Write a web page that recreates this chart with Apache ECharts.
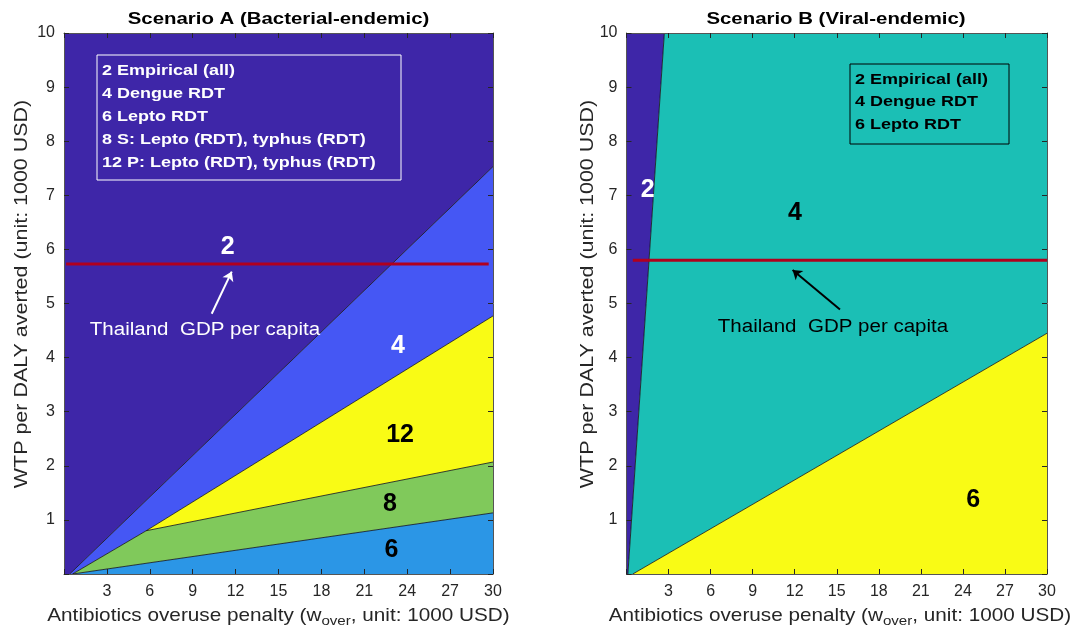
<!DOCTYPE html>
<html>
<head>
<meta charset="utf-8">
<script src="https://cdn.jsdelivr.net/npm/echarts@6/dist/echarts.min.js"></script>
<style>
  html, body { margin: 0; padding: 0; background: #fff; }
  #chart { width: 1092px; height: 631px; }
</style>
</head>
<body>
<div id="chart"></div>
<script>
// Axis ticks (both panels share the same scales)
const xTicks = [0, 3, 6, 9, 12, 15, 18, 21, 24, 27, 30];
const yTicks = [0, 1, 2, 3, 4, 5, 6, 7, 8, 9, 10];

// Scenario A: decision regions (vertices in axis units: w_over, WTP)
const regionA2  = [[0, 0], [0.4, 0], [30, 7.53], [30, 10], [0, 10]];
const regionA4  = [[0.4, 0], [0.6, 0], [5.75, 0.8], [30, 4.77], [30, 7.53]];
const regionA12 = [[5.75, 0.8], [30, 2.07], [30, 4.77]];
const regionA8  = [[0.6, 0], [30, 1.13], [30, 2.07], [5.75, 0.8]];
const regionA6  = [[0.6, 0], [30, 0], [30, 1.13]];

// Scenario A: region boundaries
const boundaryA = [
  [[0.4, 0], [30, 7.53]],
  [[0.6, 0], [5.75, 0.8]],
  [[5.75, 0.8], [30, 4.77]],
  [[5.75, 0.8], [30, 2.07]],
  [[0.6, 0], [30, 1.13]]
];

// Scenario B: decision regions
const regionB2 = [[0, 0], [0.1, 0], [2.7, 10], [0, 10]];
const regionB4 = [[0.1, 0], [0.45, 0], [30, 4.45], [30, 10], [2.7, 10]];
const regionB6 = [[0.45, 0], [30, 0], [30, 4.45]];

const boundaryB = [
  [[0.1, 0], [2.7, 10]],
  [[0.45, 0], [30, 4.45]]
];

// Thailand GDP per capita reference lines
const gdpLineA = [[0.15, 5.73], [29.7, 5.73]];
const gdpLineB = [[0.45, 5.8], [30, 5.8]];

// Arrows pointing at the GDP line (tail, head)
const arrowA = [[10.33, 4.81], [11.73, 5.59]];
const arrowB = [[15.23, 4.89], [11.85, 5.62]];

// Region number labels: [text, x, y]
const labelsA = [['2', 11.45, 6.05], ['4', 23.36, 4.21], ['12', 23.5, 2.57], ['8', 22.8, 1.29], ['6', 22.9, 0.44]];
const labelsB = [['2', 1.51, 7.10], ['4', 12.02, 6.67], ['6', 24.74, 1.37]];

// Legend entries
const legendA = ['2 Empirical (all)', '4 Dengue RDT', '6 Lepto RDT', '8 S: Lepto (RDT), typhus (RDT)', '12 P: Lepto (RDT), typhus (RDT)'];
const legendB = ['2 Empirical (all)', '4 Dengue RDT', '6 Lepto RDT'];

const titles = ['Scenario A (Bacterial-endemic)', 'Scenario B (Viral-endemic)'];
const yName = 'WTP per DALY averted (unit: 1000 USD)';
const gdpText = 'Thailand  GDP per capita';

// Parula-like colours for the strategy numbers
const colour = { '2': '#3E26A8', '4A': '#4557F4', '4B': '#1BBFB5', '6A': '#2B96E6', '6B': '#F9FB15', '8': '#80C95B', '12': '#F9FB15' };
const labelColourA = { '2': '#fff', '4': '#fff', '12': '#000', '8': '#000', '6': '#000' };
const labelColourB = { '2': '#fff', '4': '#000', '6': '#000' };

const FONT = '"Liberation Sans", Arial, Helvetica, sans-serif';
const AXIS = '#262626';
const WIDE = 1.16; // horizontal stretch of the annotation typeface

const chart = echarts.init(document.getElementById('chart'), null, { renderer: 'canvas' });

function polySeries(polys, cols, xi, yi) {
  return {
    type: 'custom',
    xAxisIndex: xi, yAxisIndex: yi,
    silent: true,
    data: polys.map((p, i) => i),
    renderItem: function (params, api) {
      const pts = polys[params.dataIndex].map(v => api.coord(v));
      return { type: 'polygon', shape: { points: pts }, style: { fill: cols[params.dataIndex], stroke: null } };
    },
    z: 1
  };
}

function boundarySeries(lines, xi, yi) {
  return lines.map(seg => ({
    type: 'line', xAxisIndex: xi, yAxisIndex: yi, data: seg, symbol: 'none', silent: true,
    lineStyle: { color: '#111', width: 0.8 }, z: 3, animation: false
  }));
}

function gdpSeries(seg, xi, yi) {
  return { type: 'line', xAxisIndex: xi, yAxisIndex: yi, data: seg, symbol: 'none', silent: true,
    lineStyle: { color: '#B0001E', width: 3 }, z: 4, animation: false };
}

function arrowSeries(seg, col, xi, yi) {
  return { type: 'lines', coordinateSystem: 'cartesian2d', xAxisIndex: xi, yAxisIndex: yi, silent: true,
    symbol: ['none', 'arrow'], symbolSize: 9,
    lineStyle: { color: col, width: 2, opacity: 1 }, data: [{ coords: seg }], z: 5, animation: false };
}

function labelSeries(items, cols, xi, yi) {
  return { type: 'scatter', xAxisIndex: xi, yAxisIndex: yi, symbolSize: 0, silent: true, z: 6,
    itemStyle: { opacity: 1 },
    data: items.map(d => ({ name: d[0], value: [d[1], d[2]],
      label: { show: true, position: 'inside', formatter: '{b}', color: cols[d[0]], opacity: 1,
        fontSize: 25, fontWeight: 'bold', fontFamily: FONT } })) };
}

function xAx(gi, pos, showLabel) {
  return { type: 'value', gridIndex: gi, position: pos, min: 0, max: 30, interval: 3, z: 10,
    axisLine: { show: true, onZero: false, lineStyle: { color: '#555', width: 1 } },
    axisTick: { show: true, inside: true, length: 5, lineStyle: { color: AXIS } },
    splitLine: { show: false },
    axisLabel: { show: showLabel, margin: 10, color: AXIS, fontSize: 16, fontFamily: FONT,
      formatter: v => (v === 0 ? '' : String(v)) } };
}
function yAx(gi, pos, showLabel) {
  return { type: 'value', gridIndex: gi, position: pos, min: 0, max: 10, interval: 1, z: 10,
    axisLine: { show: true, onZero: false, lineStyle: { color: '#555', width: 1 } },
    axisTick: { show: true, inside: true, length: 5, lineStyle: { color: AXIS } },
    splitLine: { show: false },
    axisLabel: { show: showLabel, margin: 9, color: AXIS, fontSize: 16, fontFamily: FONT,
      formatter: v => (v === 0 ? '' : String(v)) } };
}

function legendGraphic(lines, x, y, w, h, col, lh) {
  return [
    { type: 'rect', z: 100, shape: { x: x, y: y, width: w, height: h }, style: { fill: 'none', stroke: col, lineWidth: 1 } },
    { type: 'text', z: 101, x: x + 5, y: y + 4, scaleX: WIDE,
      style: { text: lines.join('\n'), fill: col, font: 'bold 15.5px ' + FONT, lineHeight: lh, verticalAlign: 'top' } }
  ];
}

function xNameGraphic(cx) {
  return { type: 'text', x: cx, y: 606, z: 100, scaleX: 1.12,
    style: { text: '{a|Antibiotics overuse penalty (w}{s|over}{a|, unit: 1000 USD)}', align: 'center', verticalAlign: 'top',
      rich: { a: { fontSize: 18.5, fontFamily: FONT, fill: AXIS, color: AXIS, lineHeight: 22, verticalAlign: 'top' },
              s: { fontSize: 13.5, fontFamily: FONT, fill: AXIS, color: AXIS, lineHeight: 22, verticalAlign: 'bottom', padding: [20, 0, 0, 0] } } } };
}

function yNameGraphic(cx) {
  return { type: 'text', x: cx, y: 294, rotation: Math.PI / 2, z: 100, scaleX: WIDE,
    style: { text: yName, align: 'center', verticalAlign: 'middle', font: '18.5px ' + FONT, fill: AXIS } };
}

const option = {
  animation: false,
  grid: [
    { left: 64, top: 33, width: 429, height: 541 },
    { left: 626.5, top: 33, width: 420.5, height: 541 }
  ],
  xAxis: [xAx(0, 'bottom', true), xAx(0, 'top', false), xAx(1, 'bottom', true), xAx(1, 'top', false)],
  yAxis: [yAx(0, 'left', true), yAx(0, 'right', false), yAx(1, 'left', true), yAx(1, 'right', false)],
  series: [
    polySeries([regionA2, regionA4, regionA12, regionA8, regionA6], [colour['2'], colour['4A'], colour['12'], colour['8'], colour['6A']], 0, 0),
    ...boundarySeries(boundaryA, 0, 0),
    gdpSeries(gdpLineA, 0, 0),
    arrowSeries(arrowA, '#fff', 0, 0),
    labelSeries(labelsA, labelColourA, 0, 0),
    polySeries([regionB2, regionB4, regionB6], [colour['2'], colour['4B'], colour['6B']], 2, 2),
    ...boundarySeries(boundaryB, 2, 2),
    gdpSeries(gdpLineB, 2, 2),
    arrowSeries(arrowB, '#000', 2, 2),
    labelSeries(labelsB, labelColourB, 2, 2)
  ],
  graphic: [
    { type: 'text', x: 278.5, y: 19, z: 100, scaleX: 1.2, style: { text: titles[0], align: 'center', verticalAlign: 'middle', font: 'bold 17px ' + FONT, fill: '#000' } },
    { type: 'text', x: 836, y: 19, z: 100, scaleX: 1.2, style: { text: titles[1], align: 'center', verticalAlign: 'middle', font: 'bold 17px ' + FONT, fill: '#000' } },
    yNameGraphic(22),
    yNameGraphic(588),
    xNameGraphic(278.5),
    xNameGraphic(840),
    ...legendGraphic(legendA, 97, 55, 304, 125, '#fff', 23),
    ...legendGraphic(legendB, 850, 64, 159, 80, '#000', 22.5),
    { type: 'text', x: 205, y: 330, z: 100, scaleX: 1.14, style: { text: gdpText, align: 'center', verticalAlign: 'middle', font: '18px ' + FONT, fill: '#fff' } },
    { type: 'text', x: 833, y: 327, z: 100, scaleX: 1.14, style: { text: gdpText, align: 'center', verticalAlign: 'middle', font: '18px ' + FONT, fill: '#000' } }
  ]
};
chart.setOption(option);
</script>
</body>
</html>
